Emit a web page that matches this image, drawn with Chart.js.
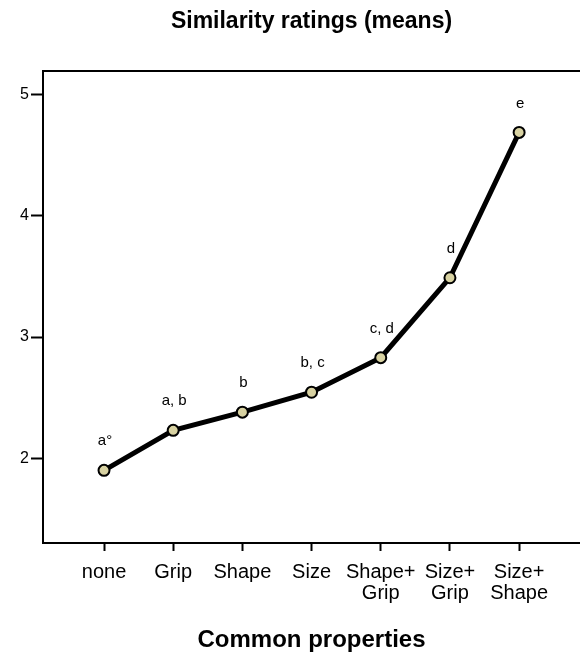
<!DOCTYPE html>
<html>
<head>
<meta charset="utf-8">
<script src="https://cdn.jsdelivr.net/npm/chart.js@4/dist/chart.umd.min.js"></script>
<style>
  html, body { margin: 0; padding: 0; background: #ffffff; }
  #wrap { width: 580px; height: 659px; position: relative; }
</style>
</head>
<body>
<div id="wrap"><canvas id="c" width="580" height="659"></canvas></div>
<script>
// ---- data ----
const categories = [
  ["none"], ["Grip"], ["Shape"], ["Size"],
  ["Shape+", "Grip"], ["Size+", "Grip"], ["Size+", "Shape"]
];
const meanRatings = [1.90, 2.23, 2.38, 2.545, 2.83, 3.49, 4.69];
const significanceLabels = ["a°", "a, b", "b", "b, c", "c, d", "d", "e"];
const yTicks = [2, 3, 4, 5];
const chartTitle = "Similarity ratings (means)";
const xTitle = "Common properties";

const FONT = "'Liberation Sans', Arial, Helvetica, sans-serif";

const points = meanRatings.map((v, i) => ({ x: i, y: v }));

const labelPlugin = {
  id: 'sigLabels',
  afterDatasetsDraw(chart) {
    const meta = chart.getDatasetMeta(0);
    const ctx = chart.ctx;
    ctx.save();
    ctx.font = "15px " + FONT;
    ctx.fillStyle = "#000";
    ctx.textAlign = "center";
    ctx.textBaseline = "middle";
    meta.data.forEach((pt, i) => {
      ctx.fillText(significanceLabels[i], pt.x + 1, pt.y - 29);
    });
    ctx.restore();
  }
};

new Chart(document.getElementById('c'), {
  type: 'line',
  data: {
    datasets: [{
      data: points,
      borderColor: '#000',
      borderWidth: 5,
      backgroundColor: '#d8d2a2',
      pointBackgroundColor: '#d8d2a2',
      pointBorderColor: '#000',
      pointBorderWidth: 2,
      pointRadius: 5.5,
      tension: 0,
      clip: false
    }]
  },
  options: {
    responsive: false,
    animation: false,
    events: [],
    layout: { autoPadding: false, padding: { left: 0, right: 0, top: 0, bottom: 0 } },
    plugins: {
      legend: { display: false },
      tooltip: { enabled: false },
      title: {
        display: true,
        text: chartTitle,
        fullSize: false,
        color: '#000',
        font: { family: FONT, size: 23, weight: 'bold', lineHeight: 1.2 },
        padding: { top: 8, bottom: 35 }
      }
    },
    scales: {
      x: {
        type: 'linear',
        position: 'bottom',
        min: -0.882,
        max: 6.88,
        afterFit(s) { s.height = 116; },
        afterBuildTicks(s) { s.ticks = categories.map((c, i) => ({ value: i })); },
        ticks: {
          includeBounds: false,
          autoSkip: false,
          maxRotation: 0,
          color: '#000',
          padding: 11,
          font: { family: FONT, size: 20, lineHeight: 1.05 },
          callback: (v) => categories[v]
        },
        grid: {
          display: true,
          drawOnChartArea: false,
          drawTicks: true,
          tickLength: 8,
          tickColor: '#000',
          tickWidth: 2
        },
        border: { display: true, color: '#000', width: 2 },
        title: {
          display: true,
          text: xTitle,
          color: '#000',
          font: { family: FONT, size: 24, weight: 'bold', lineHeight: 1.2 },
          padding: { top: 0, bottom: 4 }
        }
      },
      xTop: {
        type: 'linear',
        position: 'top',
        min: -0.882,
        max: 6.88,
        afterFit(s) { s.height = 0; },
        ticks: { display: false },
        grid: { display: true, drawOnChartArea: false, drawTicks: false },
        border: { display: true, color: '#000', width: 2 }
      },
      y: {
        type: 'linear',
        position: 'left',
        min: 1.3,
        max: 5.2,
        afterFit(s) { s.width = 43; },
        afterBuildTicks(s) { s.ticks = yTicks.map(v => ({ value: v })); },
        ticks: {
          includeBounds: false,
          color: '#000',
          padding: 2,
          font: { family: FONT, size: 16 }
        },
        grid: {
          display: true,
          drawOnChartArea: false,
          drawTicks: true,
          tickLength: 12,
          tickColor: '#000',
          tickWidth: 2
        },
        border: { display: true, color: '#000', width: 2 }
      }
    }
  },
  plugins: [labelPlugin]
});
</script>
</body>
</html>
